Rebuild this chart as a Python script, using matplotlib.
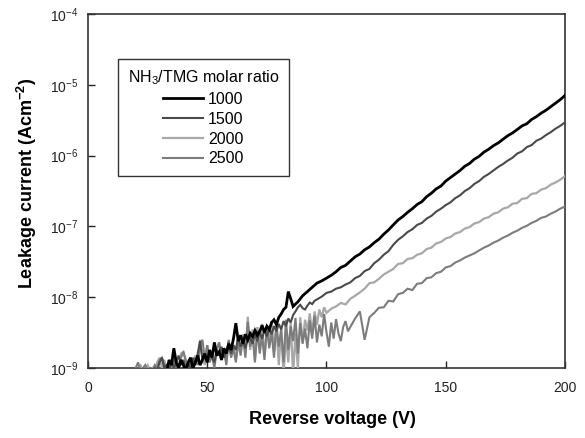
import numpy as np
import matplotlib
matplotlib.use("Agg")
import matplotlib.pyplot as plt

plt.rcParams['font.family'] = ['Liberation Sans', 'DejaVu Sans']
plt.rcParams['mathtext.fontset'] = 'custom'
plt.rcParams['mathtext.rm'] = 'Liberation Sans'
plt.rcParams['mathtext.it'] = 'Liberation Sans:italic'
plt.rcParams['mathtext.bf'] = 'Liberation Sans:bold'
plt.rcParams['axes.unicode_minus'] = False

# NH3/TMG molar ratio = 1000
v_1000 = list(range(33, 89)) + list(range(90, 201, 2))
j_1000 = [0.9e-9, 1.3e-9, 1.1e-9, 1.9e-9, 1.2e-9, 1.0e-9, 1.3e-9, 1.1e-9, 0.9e-9, 1.2e-9,
          1.4e-9, 1.0e-9, 1.2e-9, 1.5e-9, 1.1e-9, 1.3e-9, 1.6e-9, 1.2e-9, 1.8e-9, 1.4e-9,
          2.3e-9, 1.5e-9, 1.7e-9, 1.3e-9, 1.9e-9, 1.6e-9, 2.2e-9, 1.8e-9, 2.6e-9, 4.3e-9,
          2.4e-9, 2.9e-9, 2.2e-9, 3.0e-9, 2.5e-9, 3.1e-9, 2.8e-9, 3.4e-9, 2.9e-9, 3.3e-9,
          4.0e-9, 3.2e-9, 3.9e-9, 3.5e-9, 4.4e-9, 4.8e-9, 4.1e-9, 5.2e-9, 5.8e-9, 6.7e-9,
          7.2e-9, 1.2e-8, 9.5e-9, 7.4e-9, 8.0e-9, 8.6e-9,
          1.05e-8, 1.20e-8, 1.38e-8, 1.58e-8, 1.70e-8, 1.86e-8, 2.04e-8, 2.29e-8, 2.63e-8, 2.82e-8,
          3.24e-8, 3.72e-8, 4.07e-8, 4.68e-8, 5.13e-8, 5.89e-8, 6.61e-8, 7.76e-8, 8.91e-8, 1.05e-7,
          1.23e-7, 1.38e-7, 1.58e-7, 1.78e-7, 2.04e-7, 2.24e-7, 2.63e-7, 2.95e-7, 3.39e-7, 3.72e-7,
          4.37e-7, 4.90e-7, 5.50e-7, 6.17e-7, 7.08e-7, 7.76e-7, 8.91e-7, 9.77e-7, 1.12e-6, 1.23e-6,
          1.38e-6, 1.51e-6, 1.70e-6, 1.91e-6, 2.09e-6, 2.34e-6, 2.63e-6, 2.82e-6, 3.24e-6, 3.55e-6,
          3.98e-6, 4.37e-6, 4.90e-6, 5.50e-6, 6.17e-6, 7.08e-6]

# NH3/TMG molar ratio = 1500
v_1500 = list(range(28, 96)) + list(range(96, 201, 2))
j_1500 = [1.0e-9, 0.9e-9, 1.2e-9, 1.4e-9, 1.0e-9, 1.1e-9, 0.9e-9, 1.3e-9, 1.0e-9, 1.2e-9,
          1.5e-9, 1.1e-9, 1.3e-9, 1.0e-9, 1.2e-9, 0.9e-9, 1.4e-9, 1.1e-9, 1.6e-9, 2.4e-9,
          1.3e-9, 1.5e-9, 1.2e-9, 1.7e-9, 1.4e-9, 1.2e-9, 1.8e-9, 1.5e-9, 2.0e-9, 1.4e-9,
          1.7e-9, 2.3e-9, 1.6e-9, 2.1e-9, 1.8e-9, 2.8e-9, 2.0e-9, 2.4e-9, 1.9e-9, 2.6e-9,
          2.7e-9, 2.2e-9, 3.0e-9, 2.4e-9, 3.2e-9, 2.6e-9, 3.4e-9, 2.8e-9, 3.6e-9, 3.0e-9,
          3.9e-9, 3.3e-9, 4.2e-9, 3.5e-9, 4.6e-9, 3.9e-9, 5.0e-9, 4.4e-9, 5.6e-9, 6.3e-9,
          7.2e-9, 7.8e-9, 7.0e-9, 6.7e-9, 7.6e-9, 8.4e-9, 8.0e-9, 8.9e-9,
          9.3e-9, 1.02e-8, 1.15e-8, 1.20e-8, 1.32e-8, 1.38e-8, 1.51e-8, 1.62e-8, 1.86e-8, 2.00e-8,
          2.34e-8, 2.51e-8, 3.02e-8, 3.39e-8, 3.98e-8, 4.47e-8, 5.50e-8, 6.46e-8, 7.24e-8, 8.32e-8,
          9.12e-8, 1.05e-7, 1.12e-7, 1.29e-7, 1.41e-7, 1.62e-7, 1.78e-7, 2.00e-7, 2.19e-7, 2.51e-7,
          2.75e-7, 3.16e-7, 3.47e-7, 3.98e-7, 4.37e-7, 5.01e-7, 5.50e-7, 6.17e-7, 6.92e-7, 7.59e-7,
          8.51e-7, 9.33e-7, 1.07e-6, 1.15e-6, 1.32e-6, 1.41e-6, 1.62e-6, 1.74e-6, 1.95e-6, 2.14e-6,
          2.40e-6, 2.63e-6, 2.95e-6]

# NH3/TMG molar ratio = 2000
v_2000 = list(range(22, 101)) + list(range(102, 201, 2))
j_2000 = [1.1e-9, 0.9e-9, 1.0e-9, 1.1e-9, 0.9e-9, 1.0e-9, 0.9e-9, 1.2e-9, 1.4e-9, 1.0e-9,
          1.3e-9, 0.9e-9, 1.2e-9, 1.0e-9, 1.4e-9, 1.1e-9, 0.9e-9, 1.6e-9, 1.7e-9, 1.2e-9,
          1.0e-9, 1.3e-9, 1.1e-9, 1.5e-9, 1.2e-9, 2.5e-9, 1.4e-9, 1.1e-9, 2.1e-9, 1.3e-9,
          1.6e-9, 1.2e-9, 1.9e-9, 2.3e-9, 1.4e-9, 1.8e-9, 1.2e-9, 2.4e-9, 1.5e-9, 2.0e-9,
          1.3e-9, 2.6e-9, 1.7e-9, 3.0e-9, 1.6e-9, 5.3e-9, 1.8e-9, 3.5e-9, 1.3e-9, 3.8e-9,
          2.0e-9, 4.2e-9, 1.5e-9, 3.3e-9, 2.4e-9, 4.6e-9, 1.7e-9, 3.9e-9, 1.1e-9, 3.6e-9,
          0.8e-9, 2.8e-9, 1.2e-9, 4.4e-9, 0.8e-9, 3.1e-9, 1.0e-9, 5.2e-9, 2.3e-9, 4.8e-9,
          3.4e-9, 5.9e-9, 3.0e-9, 6.3e-9, 4.1e-9, 6.7e-9, 5.2e-9, 7.2e-9, 6.0e-9,
          6.9e-9, 7.4e-9, 8.3e-9, 7.9e-9, 9.5e-9, 1.05e-8, 1.17e-8, 1.32e-8, 1.58e-8, 1.62e-8,
          1.82e-8, 2.09e-8, 2.29e-8, 2.51e-8, 2.95e-8, 3.02e-8, 3.47e-8, 3.55e-8, 3.98e-8, 4.17e-8,
          4.79e-8, 5.01e-8, 5.75e-8, 6.03e-8, 6.76e-8, 7.08e-8, 7.94e-8, 8.32e-8, 9.33e-8, 9.77e-8,
          1.10e-7, 1.15e-7, 1.29e-7, 1.35e-7, 1.51e-7, 1.58e-7, 1.78e-7, 1.86e-7, 2.09e-7, 2.14e-7,
          2.45e-7, 2.51e-7, 2.88e-7, 2.95e-7, 3.31e-7, 3.47e-7, 3.89e-7, 4.17e-7, 4.57e-7, 5.13e-7]

# NH3/TMG molar ratio = 2500
v_2500 = list(range(20, 111)) + list(range(112, 201, 2))
j_2500 = [1.0e-9, 1.2e-9, 0.9e-9, 1.0e-9, 1.1e-9, 0.9e-9, 1.0e-9, 0.9e-9, 1.1e-9, 1.0e-9,
          1.3e-9, 1.4e-9, 1.1e-9, 0.9e-9, 1.2e-9, 1.0e-9, 1.3e-9, 0.9e-9, 1.1e-9, 1.4e-9,
          1.7e-9, 1.3e-9, 1.0e-9, 1.2e-9, 0.9e-9, 1.4e-9, 1.1e-9, 2.2e-9, 2.5e-9, 1.3e-9,
          2.1e-9, 1.2e-9, 1.5e-9, 1.0e-9, 1.8e-9, 2.3e-9, 1.3e-9, 1.9e-9, 1.1e-9, 2.5e-9,
          1.4e-9, 1.9e-9, 1.2e-9, 2.3e-9, 1.5e-9, 2.8e-9, 1.4e-9, 4.5e-9, 2.0e-9, 2.9e-9,
          1.2e-9, 3.4e-9, 1.6e-9, 2.9e-9, 1.3e-9, 3.8e-9, 1.9e-9, 3.2e-9, 1.4e-9, 4.2e-9,
          2.0e-9, 3.5e-9, 1.2e-9, 4.8e-9, 1.8e-9, 3.9e-9, 2.4e-9, 5.1e-9, 1.6e-9, 4.3e-9,
          2.2e-9, 3.6e-9, 1.9e-9, 4.7e-9, 2.6e-9, 5.5e-9, 2.3e-9, 4.1e-9, 2.8e-9, 5.8e-9,
          3.2e-9, 2.0e-9, 4.4e-9, 2.6e-9, 4.9e-9, 3.1e-9, 2.4e-9, 3.8e-9, 4.6e-9, 3.3e-9,
          3.8e-9,
          5.0e-9, 6.3e-9, 2.5e-9, 5.2e-9, 6.0e-9, 7.1e-9, 7.2e-9, 8.9e-9, 8.7e-9, 1.10e-8,
          1.15e-8, 1.32e-8, 1.26e-8, 1.55e-8, 1.58e-8, 1.86e-8, 1.91e-8, 2.19e-8, 2.29e-8, 2.63e-8,
          2.75e-8, 3.09e-8, 3.31e-8, 3.63e-8, 3.89e-8, 4.17e-8, 4.57e-8, 5.01e-8, 5.37e-8, 5.89e-8,
          6.31e-8, 6.92e-8, 7.41e-8, 8.13e-8, 8.71e-8, 9.55e-8, 1.02e-7, 1.12e-7, 1.20e-7, 1.32e-7,
          1.38e-7, 1.51e-7, 1.62e-7, 1.78e-7, 1.91e-7]

ratios = ['1000', '1500', '2000', '2500']
colors = ['#000000', '#4a4a4a', '#a8a8a8', '#7c7c7c']
widths = [2.0, 1.5, 1.6, 1.5]

fig = plt.figure(figsize=(5.85, 4.38), dpi=100)
ax = fig.add_axes([0.1504, 0.1598, 0.8154, 0.8082])

series = [(v_1000, j_1000), (v_1500, j_1500), (v_2000, j_2000), (v_2500, j_2500)]
zorders = [6, 5, 3, 4]
handles = []
for (v, j), lab, c, w, z in zip(series, ratios, colors, widths, zorders):
    h, = ax.plot(v, j, color=c, lw=w, label=lab, zorder=z, solid_joinstyle='miter')
    handles.append(h)

ax.set_yscale('log')
ax.set_xlim(0, 200)
ax.set_ylim(1e-9, 1e-4)
ax.set_xticks([0, 50, 100, 150, 200])
ax.set_yticks([1e-9, 1e-8, 1e-7, 1e-6, 1e-5, 1e-4])
ax.yaxis.set_minor_locator(matplotlib.ticker.NullLocator())
ax.tick_params(direction='in', length=5, width=1, labelsize=10, colors='#222222')
ax.tick_params(axis='x', pad=9)
ax.tick_params(axis='y', pad=7)
for s in ax.spines.values():
    s.set_color('#333333')
    s.set_linewidth(1.2)

ax.set_xlabel('Reverse voltage (V)', fontsize=13, fontweight='bold', labelpad=12, x=0.512)
ax.set_ylabel(r'Leakage current (Acm$^{\mathbf{-2}}$)', fontsize=13, fontweight='bold',
              labelpad=8, y=0.52)

leg = ax.legend(handles=handles, title=r'NH$_3$/TMG molar ratio', loc='upper left',
                bbox_to_anchor=(0.063, 0.874), fontsize=11.5, title_fontsize=11.5,
                frameon=True, fancybox=False, edgecolor='#333333', framealpha=1,
                handlelength=2.5, handletextpad=0.3, labelspacing=0.3, borderpad=0.62,
                borderaxespad=0)
leg.get_frame().set_linewidth(1.0)

fig.savefig('out.png', dpi=100)
